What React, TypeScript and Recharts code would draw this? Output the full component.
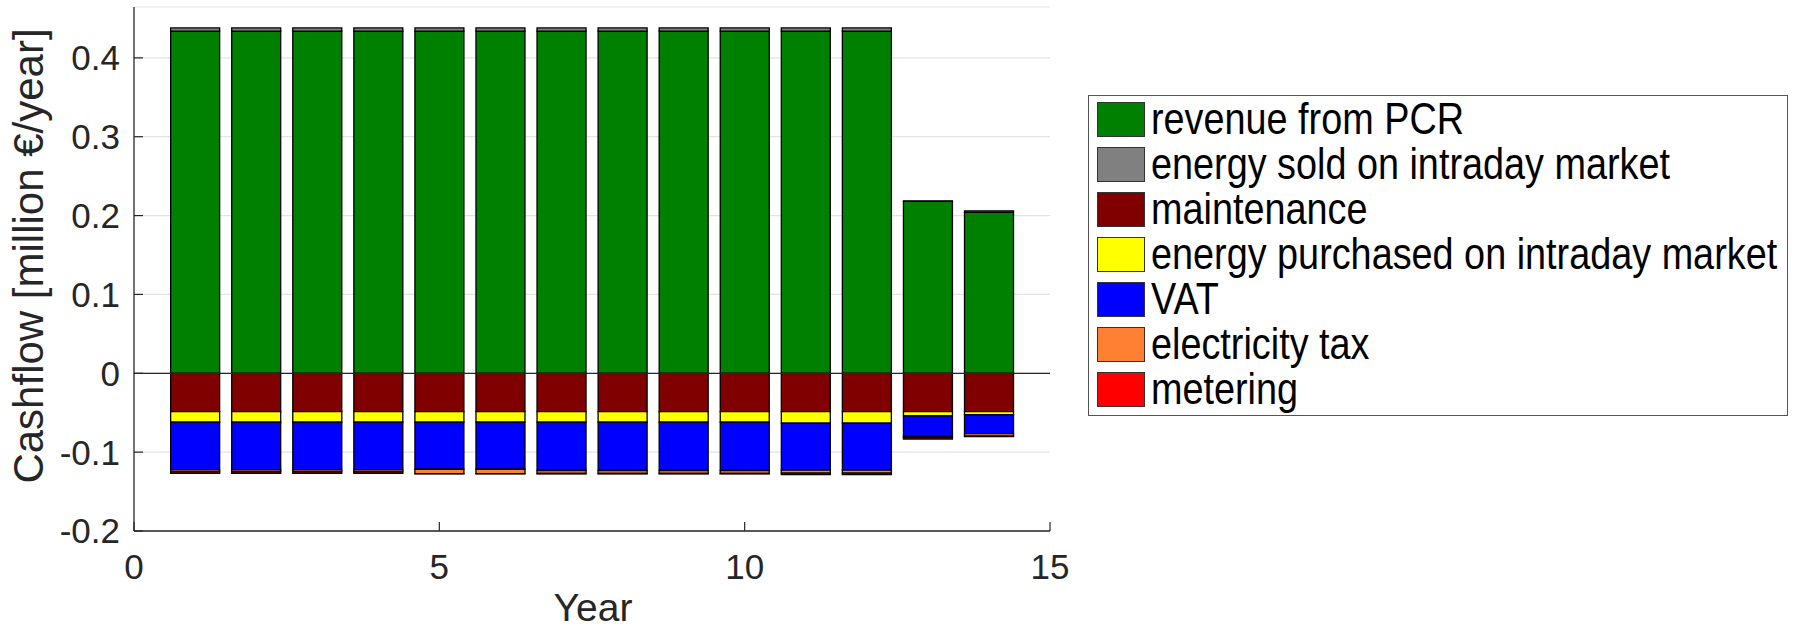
import { BarChart, Bar, XAxis, YAxis, CartesianGrid, ReferenceLine, Legend, Label } from "recharts";

const YEARS = [1, 2, 3, 4, 5, 6, 7, 8, 9, 10, 11, 12, 13, 14];
const REVENUE_PCR = [0.434, 0.434, 0.434, 0.434, 0.434, 0.434, 0.434, 0.434, 0.434, 0.434, 0.434, 0.434, 0.218, 0.204];
const ENERGY_SOLD = [0.004, 0.004, 0.004, 0.004, 0.004, 0.004, 0.004, 0.004, 0.004, 0.004, 0.004, 0.004, 0.0005, 0.002];
const MAINTENANCE = [-0.0486, -0.0486, -0.0486, -0.0486, -0.0486, -0.0486, -0.0486, -0.0486, -0.0486, -0.0486, -0.0486, -0.0486, -0.0486, -0.0486];
const ENERGY_PURCHASED = [-0.0135, -0.0135, -0.0135, -0.0135, -0.0135, -0.0135, -0.0135, -0.0135, -0.0135, -0.0135, -0.0147, -0.0147, -0.0055, -0.004];
const VAT = [-0.0604, -0.0604, -0.0604, -0.0604, -0.0596, -0.0596, -0.0612, -0.0612, -0.0612, -0.0612, -0.0596, -0.0596, -0.0258, -0.024];
const ELECTRICITY_TAX = [-0.0025, -0.0025, -0.0025, -0.0025, -0.0055, -0.0055, -0.0038, -0.0038, -0.0038, -0.0038, -0.0037, -0.0037, -0.0015, -0.003];
const METERING = [-0.002, -0.002, -0.002, -0.002, -0.0003, -0.0003, -0.0003, -0.0003, -0.0003, -0.0003, -0.0018, -0.0018, -0.002, -0.0007];

const X_TICKS = [0, 5, 10, 15];
const Y_TICKS = [-0.2, -0.1, 0, 0.1, 0.2, 0.3, 0.4];

const SERIES = [
  { key: "pcr", name: "revenue from PCR", color: "#008000", values: REVENUE_PCR },
  { key: "sold", name: "energy sold on intraday market", color: "#808080", values: ENERGY_SOLD },
  { key: "maint", name: "maintenance", color: "#800000", values: MAINTENANCE },
  { key: "bought", name: "energy purchased on intraday market", color: "#ffff00", values: ENERGY_PURCHASED },
  { key: "vat", name: "VAT", color: "#0000ff", values: VAT },
  { key: "tax", name: "electricity tax", color: "#ff8033", values: ELECTRICITY_TAX },
  { key: "meter", name: "metering", color: "#ff0000", values: METERING },
];

const data = YEARS.map((year, i) => {
  const row: Record<string, number> = { year };
  SERIES.forEach((s) => (row[s.key] = s.values[i]));
  return row;
});

const FONT = "'Liberation Sans', Arial, Helvetica, sans-serif";
const INK = "#262626";

function YTick(props: any) {
  const { x, y, payload } = props;
  return (
    <g>
      <line x1={x} x2={x + 9} y1={y} y2={y} stroke={INK} strokeWidth={1.2} />
      <text x={x - 14} y={y} dy="0.355em" textAnchor="end" fontSize={35} fill={INK} fontFamily={FONT}>
        {payload.value}
      </text>
    </g>
  );
}

function XTick(props: any) {
  const { x, y, payload } = props;
  return (
    <g>
      <line x1={x} x2={x} y1={y} y2={y - 9} stroke={INK} strokeWidth={1.2} />
      <text x={x} y={y + 23} dy="0.71em" textAnchor="middle" fontSize={35} fill={INK} fontFamily={FONT}>
        {payload.value}
      </text>
    </g>
  );
}

function LegendBox() {
  return (
    <div
      style={{
        position: "relative",
        width: 700,
        height: 321,
        boxSizing: "border-box",
        border: "1.5px solid #555",
        background: "#fff",
        fontFamily: FONT,
      }}
    >
      {SERIES.map((s, i) => (
        <div key={s.key}>
          <div
            style={{
              position: "absolute",
              left: 8,
              top: 6 + i * 45,
              width: 48,
              height: 35,
              boxSizing: "border-box",
              background: s.color,
              border: "1.5px solid #333",
            }}
          />
          <span
            style={{
              position: "absolute",
              left: 62,
              top: 3 + i * 45,
              fontSize: 45,
              lineHeight: "40px",
              color: "#000",
              whiteSpace: "nowrap",
              transform: "scaleX(0.84)",
              transformOrigin: "left center",
            }}
          >
            {s.name}
          </span>
        </div>
      ))}
    </div>
  );
}

export default function App() {
  return (
    <div style={{ position: "absolute", left: 0, top: 0, width: 1794, height: 631, background: "#fff" }}>
      <BarChart
        width={1794}
        height={631}
        data={data}
        stackOffset="sign"
        barCategoryGap="10%"
        margin={{ top: 7, right: 744, left: 0, bottom: 0 }}
      >
        <CartesianGrid vertical={false} stroke="#e3e3e3" strokeWidth={1.2} />
        <XAxis
          dataKey="year"
          type="number"
          domain={[0, 15]}
          ticks={X_TICKS}
          allowDataOverflow
          height={100}
          tickSize={0}
          tickMargin={0}
          tick={<XTick />}
          axisLine={{ stroke: INK, strokeWidth: 1.3 }}
          tickLine={false}
        >
          <Label
            content={() => (
              <text x={593} y={621} textAnchor="middle" fontSize={39} fill={INK} fontFamily={FONT}>
                Year
              </text>
            )}
          />
        </XAxis>
        <YAxis
          type="number"
          domain={[-0.2, 0.4645]}
          ticks={Y_TICKS}
          allowDataOverflow
          width={134}
          tickSize={0}
          tickMargin={0}
          tick={<YTick />}
          axisLine={{ stroke: INK, strokeWidth: 1.3 }}
          tickLine={false}
        >
          <Label
            content={() => (
              <text
                x={43}
                y={256}
                transform="rotate(-90 43 256)"
                textAnchor="middle"
                fontSize={42}
                fill={INK}
                fontFamily={FONT}
              >
                Cashflow [million €/year]
              </text>
            )}
          />
        </YAxis>
        {SERIES.map((s) => (
          <Bar
            key={s.key}
            dataKey={s.key}
            name={s.name}
            stackId="cash"
            fill={s.color}
            stroke="#000"
            strokeWidth={1.3}
            isAnimationActive={false}
          />
        ))}
        <ReferenceLine y={0} stroke={INK} strokeWidth={1.3} />
        <Legend
          layout="vertical"
          align="center"
          verticalAlign="middle"
          content={() => <LegendBox />}
          wrapperStyle={{ left: 1088, top: 95, width: 700, height: 321 }}
        />
      </BarChart>
    </div>
  );
}
